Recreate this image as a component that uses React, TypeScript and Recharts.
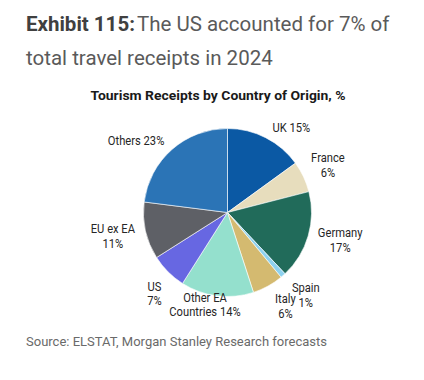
import React from "react";
import { PieChart, Pie, Cell } from "recharts";

const countries = ["UK", "France", "Germany", "Spain", "Italy", "Other EA Countries", "US", "EU ex EA", "Others"];
const shares = [15, 6, 17, 1, 6, 14, 7, 11, 23];
const sliceColors = ["#0b59a4", "#e7ddbd", "#216b5a", "#8ed2ef", "#d4ba70", "#94e0cd", "#6767e2", "#5e6066", "#2b74b6"];

// how each label is broken into lines (text before the break goes on line 1)
const labelFirstLine: Record<string, string | null> = {
  UK: null,
  France: "France",
  Germany: "Germany",
  Spain: "Spain",
  Italy: "Italy",
  "Other EA Countries": "Other EA",
  US: "US",
  "EU ex EA": "EU ex EA",
  Others: null,
};

// label layout: angle nudge (deg, clockwise) and radius (px)
const labelLayout: Record<string, { nudge: number; r: number }> = {
  UK: { nudge: 10, r: 106 },
  France: { nudge: 0, r: 111 },
  Germany: { nudge: -2.5, r: 116 },
  Spain: { nudge: -2, r: 114 },
  Italy: { nudge: -3, r: 110 },
  "Other EA Countries": { nudge: 6.5, r: 95 },
  US: { nudge: -3, r: 109 },
  "EU ex EA": { nudge: 1, r: 117 },
  Others: { nudge: -10.6, r: 116 },
};

const data = countries.map((name, i) => ({ name, value: shares[i] }));

const RAD = Math.PI / 180;

const renderLabel = (props: any) => {
  const { cx, cy, midAngle, name, value } = props;
  const lay = labelLayout[name];
  const ang = midAngle - lay.nudge;
  const x = cx + lay.r * Math.cos(-ang * RAD);
  const y = cy + lay.r * Math.sin(-ang * RAD);
  const first = labelFirstLine[name];
  let lines: string[];
  if (first === null) {
    lines = [`${name} ${value}%`];
  } else {
    const rest = name.slice(first.length).trim();
    lines = [first, rest ? `${rest} ${value}%` : `${value}%`];
  }
  const lh = 14.5;
  const y0 = y - ((lines.length - 1) * lh) / 2;
  return (
    <g key={name} transform={`translate(${x} 0) scale(0.86 1) translate(${-x} 0)`}>
      <text
        x={x}
        y={y0}
        textAnchor="middle"
        dominantBaseline="central"
        fill="#262626"
        style={{ fontFamily: "Roboto", fontSize: 13 }}
      >
        {lines.map((l, i) => (
          <tspan key={i} x={x} y={y0 + i * lh}>
            {l}
          </tspan>
        ))}
      </text>
    </g>
  );
};

export default function App() {
  return (
    <div style={{ position: "absolute", left: 0, top: 0, width: 424, height: 380, background: "#fff", overflow: "hidden" }}>
      <div
        style={{
          position: "absolute",
          left: 26,
          top: 6.5,
          fontFamily: "Roboto",
          fontSize: 20.5,
          lineHeight: "34.5px",
          color: "#5a5a5a",
          width: 410,
          whiteSpace: "nowrap",
        }}
      >
        <span style={{ fontWeight: 700, color: "#404040" }}>Exhibit 115:</span>
        <span style={{ marginLeft: 2 }}>The US accounted for 7% of</span>
        <br />
        total travel receipts in 2024
      </div>
      <div
        style={{
          position: "absolute",
          left: 26,
          top: 333.5,
          fontFamily: "Roboto",
          fontSize: 13,
          color: "#6a6a6a",
        }}
      >
        Source: ELSTAT, Morgan Stanley Research forecasts
      </div>
      <div style={{ position: "absolute", left: 0, top: 0 }}>
        <PieChart width={424} height={380}>
          <text
            x={218}
            y={95}
            textAnchor="middle"
            dominantBaseline="central"
            fill="#1a1a1a"
            textLength={255}
            lengthAdjust="spacingAndGlyphs"
            style={{ fontFamily: "Roboto", fontWeight: 700, fontSize: 13.5 }}
          >
            Tourism Receipts by Country of Origin, %
          </text>
          <Pie
            data={data}
            dataKey="value"
            nameKey="name"
            cx={222.5}
            cy={207.5}
            outerRadius={84}
            startAngle={90}
            endAngle={-270}
            stroke="#ffffff"
            strokeWidth={0.6}
            label={renderLabel}
            labelLine={false}
            isAnimationActive={false}
          >
            {data.map((d, i) => (
              <Cell key={d.name} fill={sliceColors[i]} />
            ))}
          </Pie>
        </PieChart>
      </div>
    </div>
  );
}
